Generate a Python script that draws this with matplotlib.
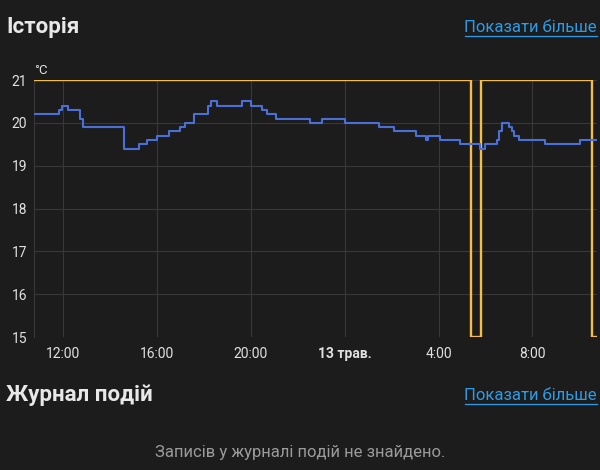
import matplotlib
matplotlib.use("Agg")
import matplotlib.pyplot as plt

# hours since midnight of 12 May
temp_hours = [10.75, 11.80, 11.94, 12.22, 12.72, 12.86, 14.57, 15.21, 15.57, 15.99, 16.49,
              16.99, 17.20, 17.55, 18.15, 18.29, 18.55, 19.62, 20.00, 20.47, 20.68, 21.08,
              22.53, 23.03, 24.02, 25.44, 26.08, 27.05, 27.48, 27.54, 28.07, 28.93, 29.78,
              29.99, 30.49, 30.59, 30.70, 30.98, 31.13, 31.23, 31.41, 32.55, 34.04, 34.75]
temp_values = [20.2, 20.3, 20.4, 20.3, 20.1, 19.9, 19.4, 19.5, 19.6, 19.7, 19.8,
               19.9, 20.0, 20.2, 20.4, 20.5, 20.4, 20.5, 20.4, 20.3, 20.2, 20.1,
               20.0, 20.1, 20.0, 19.9, 19.8, 19.7, 19.6, 19.7, 19.6, 19.5, 19.4,
               19.5, 19.6, 19.8, 20.0, 19.9, 19.8, 19.7, 19.6, 19.5, 19.6, 19.6]

target_hours = [10.75, 29.38, 29.79, 34.53, 34.75]
target_values = [21, 15, 21, 15, 15]

x_ticks = [12, 16, 20, 24, 28, 32]
x_labels = ["12:00", "16:00", "20:00", "13 трав.", "4:00", "8:00"]
y_ticks = [15, 16, 17, 18, 19, 20, 21]

BG = "#1c1c1c"
plt.rcParams['font.family'] = ['Roboto', 'DejaVu Sans']

fig = plt.figure(figsize=(6, 4.7), dpi=100, facecolor=BG)
W, H = 600, 470
ax = fig.add_axes([34 / W, 1 - 337 / H, (597 - 34) / W, (337 - 80) / H], facecolor=BG)

ax.plot(target_hours, target_values, drawstyle='steps-post', color='#f4bd4a', lw=1.7,
        solid_joinstyle='miter', zorder=3)
ax.plot(temp_hours, temp_values, drawstyle='steps-post', color='#4a6fd6', lw=1.5, zorder=4)

ax.set_xlim(10.75, 34.75)
ax.set_ylim(15, 21)
ax.set_xticks(x_ticks)
ax.set_xticklabels(x_labels)
ax.set_yticks(y_ticks)
for lbl in ax.get_xticklabels():
    if lbl.get_text() == "13 трав.":
        lbl.set_fontweight('bold')
ax.tick_params(axis='both', length=0, colors='#e1e1e1', labelsize=10)
ax.tick_params(axis='x', pad=7)
ax.tick_params(axis='y', pad=5)
ax.grid(True, color='#383838', lw=0.8)
for s in ['top', 'right', 'bottom']:
    ax.spines[s].set_visible(False)
ax.spines['left'].set_color('#383838')
ax.set_axisbelow(True)

fig.text(34 / W, 1 - 70 / H, "°C", color='#e1e1e1', fontsize=9.5, va='center', ha='left')

fig.text(6 / W, 1 - 27 / H, "Історія", color='#e8e8e8', fontsize=16, fontweight='bold',
         va='center', ha='left')
fig.text(597 / W, 1 - 27 / H, "Показати більше", color='#2d9ce8', fontsize=12,
         va='center', ha='right')
fig.text(6 / W, 1 - 395 / H, "Журнал подій", color='#e8e8e8', fontsize=16, fontweight='bold',
         va='center', ha='left')
fig.text(597 / W, 1 - 395 / H, "Показати більше", color='#2d9ce8', fontsize=12,
         va='center', ha='right')
fig.text(300 / W, 1 - 452 / H, "Записів у журналі подій не знайдено.", color='#9b9b9b',
         fontsize=12, va='center', ha='center')

# underlines for links
for yy in (36, 404):
    fig.add_artist(plt.Line2D([465 / W, 597 / W], [1 - yy / H, 1 - yy / H],
                              color='#2d9ce8', lw=0.9, transform=fig.transFigure))

fig.savefig("out.png", dpi=100, facecolor=BG)
